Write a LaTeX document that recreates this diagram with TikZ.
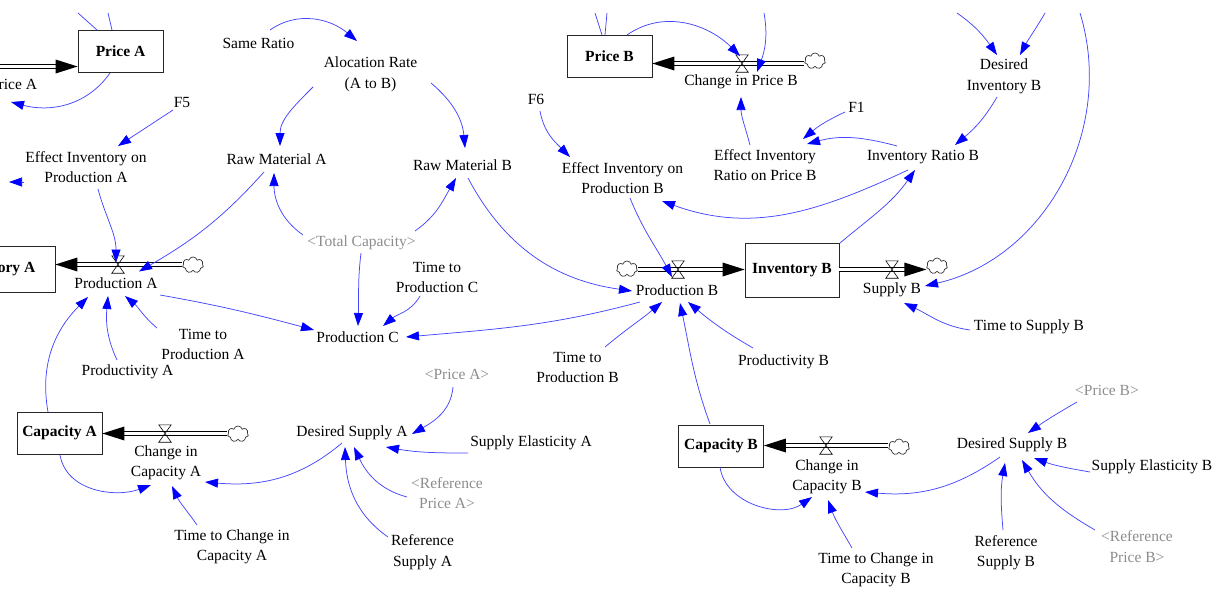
\documentclass[tikz,border=0pt]{standalone}
\usepackage{fontspec}
\setmainfont{Liberation Serif}
\usetikzlibrary{arrows.meta,shapes.symbols,calc}
\definecolor{lnk}{RGB}{70,70,255}
\definecolor{ghost}{RGB}{140,140,140}
\begin{document}
\begin{tikzpicture}[x=1pt,y=1pt,
  lbl/.style={font=\fontsize{15.5}{20.5}\selectfont, align=center, inner sep=1pt},
  glbl/.style={lbl, text=ghost},
  stock/.style={draw=black!85, line width=0.8pt, font=\fontsize{15.5}{20.5}\selectfont\bfseries, minimum width=85pt, minimum height=42pt, inner sep=0},
  vlv/.style={inner sep=0, minimum width=12pt, minimum height=17pt},
  cld/.style={cloud, cloud puffs=7, draw=black!80, line width=0.7pt, inner sep=0, minimum width=21pt, minimum height=16pt},
  arr/.style={draw=lnk, line width=0.75pt, -{Triangle[length=13pt,width=9pt,color=blue]}},
  ln/.style={draw=lnk, line width=0.75pt},
  pipe/.style={draw=black, line width=0.9pt, double=white, double distance=3.2pt},
  vdraw/.style={draw=black, line width=0.6pt}
]
\useasboundingbox (0,0) rectangle (1220,-592);
\clip (0,0) rectangle (1220,-592);

% ---- nodes: left half
\node[stock] (priceA) at (120.5,-51) {Price A};
\node[lbl] (chgPA) at (-20,-86) {Change in Price A};
\node[lbl] (same) at (258.5,-43) {Same Ratio};
\node[lbl] (aloc) at (370.5,-74.5) {Alocation Rate\\(A to B)};
\node[lbl] (F5) at (182,-102) {F5};
\node[lbl] (effA) at (86,-167) {Effect Inventory on\\Production A};
\node[lbl] (rawA) at (276.5,-159) {Raw Material A};
\node[lbl] (rawB) at (462.5,-165) {Raw Material B};
\node[lbl] (F6) at (536,-99) {F6};
\node[lbl] (effB) at (622.5,-178) {Effect Inventory on\\Production B};
\node[glbl] (totCap) at (361.5,-243) {<Total Capacity>};
\node[lbl] (timeC) at (437,-277.5) {Time to\\Production C};
\node[lbl] (prodC) at (357.5,-337) {Production C};
\node[stock, minimum width=120pt, minimum height=46pt] (invA) at (-5,-269) {Inventory A};
\node[vlv] (vA) at (118,-264.5) {};
\node[lbl] (prodA) at (116,-283) {Production A};
\node[cld] (cloudA) at (193,-265) {};
\node[lbl] (timeA) at (203,-344.5) {Time to\\Production A};
\node[lbl] (prodtyA) at (127.5,-372) {Productivity A};
\node[stock] (capA) at (59.5,-433) {Capacity A};
\node[vlv] (vCA) at (165,-433.5) {};
\node[cld] (cloudCA) at (238,-434) {};
\node[lbl] (chgCapA) at (166,-463) {Change in\\Capacity A};
\node[lbl] (timeCapA) at (232,-547) {Time to Change in\\Capacity A};
\node[lbl] (desA) at (352,-433) {Desired Supply A};
\node[glbl] (priceAref) at (457,-374) {<Price A>};
\node[lbl] (supElA) at (531,-443) {Supply Elasticity A};
\node[glbl] (refPriceA) at (447,-493) {<Reference\\Price A>};
\node[lbl] (refSupA) at (422.5,-552) {Reference\\Supply A};

% ---- nodes: right half
\node[stock] (priceB) at (609.5,-56) {Price B};
\node[vlv] (vPB) at (742,-63.5) {};
\node[cld] (cloudPB) at (815,-61) {};
\node[lbl] (chgPB) at (741,-82) {Change in Price B};
\node[lbl] (effIRB) at (765,-165) {Effect Inventory\\Ratio on Price B};
\node[lbl] (F1) at (856.5,-107) {F1};
\node[lbl] (irB) at (923,-157) {Inventory Ratio B};
\node[lbl] (desInvB) at (1004,-76.5) {Desired\\Inventory B};
\node[cld] (cloudB) at (627,-269) {};
\node[vlv] (vB) at (678,-269.5) {};
\node[lbl] (prodB) at (677,-290) {Production B};
\node[stock, minimum width=94pt, minimum height=54pt] (invB) at (792,-270) {Inventory B};
\node[vlv] (vS) at (892,-269.5) {};
\node[cld] (cloudS) at (937,-266) {};
\node[lbl] (supB) at (892,-290) {Supply B};
\node[lbl] (timeSupB) at (1029,-327) {Time to Supply B};
\node[lbl] (timeB) at (577.5,-367.5) {Time to\\Production B};
\node[lbl] (prodtyB) at (783.5,-362) {Productivity B};
\node[stock] (capB) at (721,-446) {Capacity B};
\node[vlv] (vCB) at (826,-445.5) {};
\node[cld] (cloudCB) at (899,-447) {};
\node[lbl] (chgCapB) at (827,-477) {Change in\\Capacity B};
\node[lbl] (timeCapB) at (876,-570) {Time to Change in\\Capacity B};
\node[lbl] (desB) at (1012,-445) {Desired Supply B};
\node[glbl] (priceBref) at (1107,-390) {<Price B>};
\node[lbl] (supElB) at (1152,-467) {Supply Elasticity B};
\node[glbl] (refPriceB) at (1137,-546.5) {<Reference\\Price B>};
\node[lbl] (refSupB) at (1006,-552.5) {Reference\\Supply B};

% free ends (outside the cropped view)
\coordinate (srcPA) at (-20,-66.5);
\coordinate (topA1) at (78,-13);
\coordinate (topA2) at (108,-13);
\coordinate (topB1) at (595,-13);
\coordinate (topB2) at (607,-13);
\coordinate (topB3) at (764,-13);
\coordinate (topD1) at (957,-13);
\coordinate (topD2) at (1045,-13);
\coordinate (topS) at (1080,-13);
\coordinate (offA) at (9,-182);

% ---- pipes
\draw[pipe, shorten >=20pt] (srcPA) -- (srcPA -| priceA.west);
\fill (srcPA -| priceA.west) -- ++(-22,7) -- ++(0,-14) -- cycle;
\draw[pipe, shorten >=20pt] (cloudPB.west |- vPB) -- (vPB -| priceB.east);
\fill (vPB -| priceB.east) -- ++(22,7) -- ++(0,-14) -- cycle;
\draw[pipe, shorten >=20pt] (cloudA.west |- vA) -- (vA -| invA.east);
\fill (vA -| invA.east) -- ++(22,7) -- ++(0,-14) -- cycle;
\draw[pipe, shorten >=20pt] (cloudB.east |- vB) -- (vB -| invB.west);
\fill (vB -| invB.west) -- ++(-22,7) -- ++(0,-14) -- cycle;
\draw[pipe, shorten >=20pt] (vS -| invB.east) -- (cloudS.west |- vS);
\fill (cloudS.west |- vS) -- ++(-22,7) -- ++(0,-14) -- cycle;
\draw[pipe, shorten >=20pt] (cloudCA.west |- vCA) -- (vCA -| capA.east);
\fill (vCA -| capA.east) -- ++(22,7) -- ++(0,-14) -- cycle;
\draw[pipe, shorten >=20pt] (cloudCB.west |- vCB) -- (vCB -| capB.east);
\fill (vCB -| capB.east) -- ++(22,7) -- ++(0,-14) -- cycle;

\foreach \v in {vA,vPB,vB,vS,vCA,vCB}{
  \draw[vdraw] (\v.north west) -- (\v.north east) -- (\v.south west) -- (\v.south east) -- cycle;
}

% ---- links
\draw[arr] ([shift={(11.5,13)}]same.center) to[out=35,in=140] ([shift={(-13.5,33.5)}]aloc.center);
\draw[arr] ([shift={(-57.5,-12.5)}]aloc.center) to[out=225,in=90] ([shift={(3.5,13)}]rawA.center);
\draw[arr] ([shift={(60.5,-8.5)}]aloc.center) to[out=-40,in=95] ([shift={(2.5,17)}]rawB.center);
\draw[arr] ([shift={(-9,-8)}]F5.center) -- ([shift={(32,21)}]effA.center);
\draw[arr] ([shift={(12,-22)}]effA.center) to[out=-75,in=90] ([shift={(-2,2)}]vA.center);
\draw[arr] ([shift={(-12.5,-13)}]rawA.center) to[out=228,in=30] ([shift={(21,-7)}]vA.center);
\draw[arr] ([shift={(-58.5,8)}]totCap.center) to[out=145,in=-90] ([shift={(-2.5,-14)}]rawA.center);
\draw[arr] ([shift={(53.5,12)}]totCap.center) to[out=35,in=240] ([shift={(-6.5,-13)}]rawB.center);
\draw[arr] ([shift={(-0.5,-10)}]totCap.center) to[out=-97,in=88] ([shift={(0.5,11)}]prodC.center);
\draw[arr] ([shift={(5.5,-13)}]rawB.center) to[out=-62,in=172] ([shift={(-45,-1)}]prodB.center);
\draw[arr] ([shift={(4,-12)}]F6.center) to[out=-80,in=135] ([shift={(-52.5,21)}]effB.center);
\draw[arr] ([shift={(7.5,-20)}]effB.center) to[out=-68,in=118] ([shift={(-6,-7.5)}]vB.center);
\draw[arr] ([shift={(-15,-13)}]irB.center) to[out=205,in=-20] ([shift={(39.5,-23)}]effB.center);
\draw[arr] ([shift={(48,27)}]invB.center) to[out=40,in=235] ([shift={(-8,-13)}]irB.center);
\draw[arr] (topS) to[out=-73,in=13] ([shift={(33,4)}]supB.center);
\draw[arr] ([shift={(-59,-3)}]timeSupB.center) to[out=172,in=-25] ([shift={(12,-13)}]supB.center);
\draw[arr] (topD1) to[out=-35,in=125] ([shift={(-7,21.5)}]desInvB.center);
\draw[arr] (topD2) to[out=-120,in=62] ([shift={(16,21.5)}]desInvB.center);
\draw[arr] ([shift={(-7,-20.5)}]desInvB.center) to[out=-120,in=40] ([shift={(32,12)}]irB.center);
\draw[arr] ([shift={(-11.5,-5)}]F1.center) to[out=205,in=40] ([shift={(38,26)}]effIRB.center);
\draw[arr] ([shift={(-26,11)}]irB.center) to[out=165,in=15] ([shift={(42,21)}]effIRB.center);
\draw[arr] ([shift={(-15,20)}]effIRB.center) to[out=105,in=-90] ([shift={(0,-15)}]chgPB.center);
\draw[arr] ([shift={(17.5,21)}]priceB.center) to[out=35,in=135] ([shift={(-2,7.5)}]vPB.center);
\draw[arr] (topB3) to[out=-80,in=70] ([shift={(15,-8.5)}]vPB.center);
\draw[ln] ([shift={(-7.5,21)}]priceB.center) -- (topB1);
\draw[ln] ([shift={(-4.5,21)}]priceB.center) -- (topB2);
\draw[ln] ([shift={(-23.5,21)}]priceA.center) -- (topA1);
\draw[ln] ([shift={(-8.5,21)}]priceA.center) -- (topA2);
\draw[arr] ([shift={(-10.5,-22)}]priceA.center) to[out=235,in=-15] ([shift={(31,-16)}]chgPA.center);
\draw[arr] ([shift={(-62,-15)}]effA.center) -- (offA);
\draw[arr] ([shift={(44,-12)}]prodA.center) to[out=-10,in=165] ([shift={(-43.5,7)}]prodC.center);
\draw[arr] ([shift={(-17,-18.5)}]timeC.center) to[out=240,in=40] ([shift={(25.5,11)}]prodC.center);
\draw[arr] ([shift={(-37,-12)}]prodB.center) to[out=195,in=5] ([shift={(48.5,0)}]prodC.center);
\draw[arr] ([shift={(-46,16.5)}]timeA.center) to[out=140,in=-40] ([shift={(9,-13)}]prodA.center);
\draw[arr] ([shift={(-10.5,12)}]prodtyA.center) to[out=115,in=-95] ([shift={(-8,-13)}]prodA.center);
\draw[arr] ([shift={(-11.5,21)}]capA.center) to[out=100,in=-135] ([shift={(-28,-14)}]prodA.center);
\draw[arr] ([shift={(0.5,-22)}]capA.center) to[out=-80,in=200] ([shift={(-15,-22)}]chgCapA.center);
\draw[arr] ([shift={(-35,22)}]timeCapA.center) to[out=125,in=-65] ([shift={(6,-23)}]chgCapA.center);
\draw[arr] ([shift={(-10,-10)}]desA.center) to[out=220,in=-5] ([shift={(39,-19)}]chgCapA.center);
\draw[arr] ([shift={(-4,-13)}]priceAref.center) to[out=-95,in=30] ([shift={(60,-1)}]desA.center);
\draw[arr] ([shift={(-63,-10)}]supElA.center) to[out=180,in=-10] ([shift={(34,-14)}]desA.center);
\draw[arr] ([shift={(-40,-4)}]refPriceA.center) to[out=165,in=-65] ([shift={(2,-14)}]desA.center);
\draw[arr] ([shift={(-34.5,15)}]refSupA.center) to[out=145,in=-88] ([shift={(-7,-14)}]desA.center);
\draw[arr] ([shift={(-11,22)}]capB.center) to[out=110,in=-78] ([shift={(3,-13)}]prodB.center);
\draw[arr] ([shift={(-1,-21)}]capB.center) to[out=-82,in=215] ([shift={(-15,-20)}]chgCapB.center);
\draw[arr] ([shift={(-24,22)}]timeCapB.center) to[out=120,in=-70] ([shift={(1,-23)}]chgCapB.center);
\draw[arr] ([shift={(-12,-12)}]desB.center) to[out=215,in=-5] ([shift={(38,-15)}]chgCapB.center);
\draw[arr] ([shift={(-30,-12)}]priceBref.center) to[out=210,in=35] ([shift={(16,12)}]desB.center);
\draw[arr] ([shift={(-62,-5)}]supElB.center) to[out=170,in=-20] ([shift={(22,-13)}]desB.center);
\draw[arr] ([shift={(-42,16.5)}]refPriceB.center) to[out=150,in=-60] ([shift={(10,-15)}]desB.center);
\draw[arr] ([shift={(-3,22.5)}]refSupB.center) to[out=95,in=-100] ([shift={(-7,-18)}]desB.center);
\draw[arr] ([shift={(27.5,20.5)}]timeB.center) to[out=40,in=220] ([shift={(-15,-12)}]prodB.center);
\draw[arr] ([shift={(-30.5,14)}]prodtyB.center) to[out=150,in=-40] ([shift={(11,-12)}]prodB.center);
\end{tikzpicture}
\end{document}
